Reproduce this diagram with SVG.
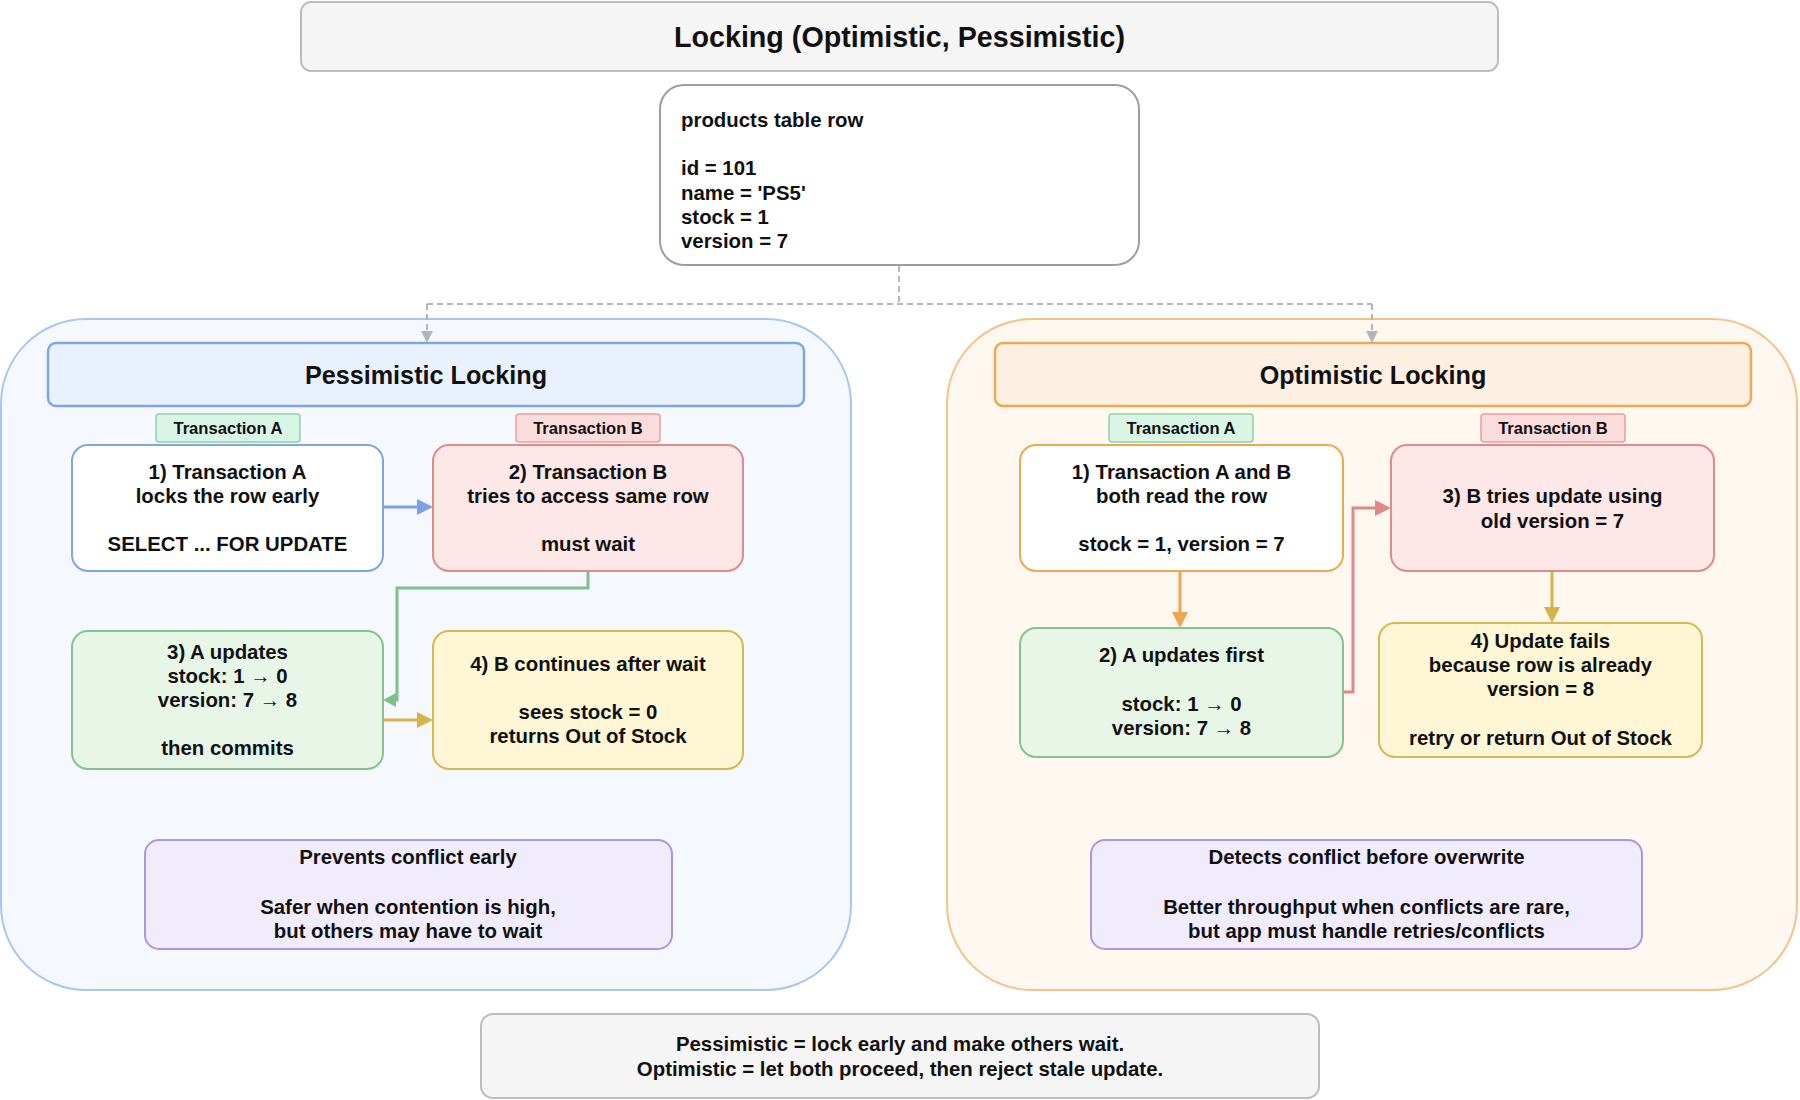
<svg xmlns="http://www.w3.org/2000/svg" width="1800" height="1100" viewBox="0 0 1800 1100">
<defs>
<style>
text{font-family:"Liberation Sans",Arial,Helvetica,sans-serif;font-weight:bold;fill:#111;}
.c{text-anchor:middle;}
.t20{font-size:20.4px;}
.t16{font-size:16.6px;}
.t24{font-size:25.2px;}
.t28{font-size:28.7px;}
.gray{fill:#f5f5f5;stroke:#bdbdbd;stroke-width:2;}
.red{fill:#fde7e7;stroke:#e08a8a;stroke-width:2;}
.green{fill:#e8f6e8;stroke:#86c28c;stroke-width:2;}
.yellow{fill:#fff6d6;stroke:#d8b850;stroke-width:2;}
.purple{fill:#f1ecfc;stroke:#a999dc;stroke-width:2;}
.labA{fill:#d9f5e5;stroke:#8fd0a5;stroke-width:1.5;}
.labB{fill:#fbdcdc;stroke:#e8a0a0;stroke-width:1.5;}
.conn{fill:none;stroke-width:3;}
.dash{fill:none;stroke:#b5b5b5;stroke-width:2;stroke-dasharray:6 4;}
</style>
<marker id="aBlue" markerUnits="userSpaceOnUse" viewBox="0 0 16 16" markerWidth="16" markerHeight="16" refX="0" refY="8" orient="auto"><path d="M0,0 L16,8 L0,16 z" fill="#7aa2e3"/></marker>
<marker id="aGreen" markerUnits="userSpaceOnUse" viewBox="0 0 13 14" markerWidth="13" markerHeight="14" refX="0" refY="7" orient="auto"><path d="M0,0 L13,7 L0,14 z" fill="#82c08a"/></marker>
<marker id="aGold" markerUnits="userSpaceOnUse" viewBox="0 0 16 16" markerWidth="16" markerHeight="16" refX="0" refY="8" orient="auto"><path d="M0,0 L16,8 L0,16 z" fill="#d6b44a"/></marker>
<marker id="aOrange" markerUnits="userSpaceOnUse" viewBox="0 0 16 16" markerWidth="16" markerHeight="16" refX="0" refY="8" orient="auto"><path d="M0,0 L16,8 L0,16 z" fill="#f0a552"/></marker>
<marker id="aRed" markerUnits="userSpaceOnUse" viewBox="0 0 16 16" markerWidth="16" markerHeight="16" refX="0" refY="8" orient="auto"><path d="M0,0 L16,8 L0,16 z" fill="#e08888"/></marker>
<marker id="aGray" markerUnits="userSpaceOnUse" viewBox="0 0 12 12" markerWidth="12" markerHeight="12" refX="0" refY="6" orient="auto"><path d="M0,0 L12,6 L0,12 z" fill="#b5b5b5"/></marker>
</defs>

<g id="title">
<rect x="301" y="2" width="1197" height="69" rx="10" class="gray"/>
<text x="899.5" y="46.5" class="c t28">Locking (Optimistic, Pessimistic)</text>
</g>

<g id="products">
<rect x="660" y="85" width="479" height="180" rx="24" fill="#ffffff" stroke="#9e9e9e" stroke-width="2"/>
<text x="681" y="127" class="t20">products table row</text>
<text x="681" y="175" class="t20">id = 101</text>
<text x="681" y="199.5" class="t20">name = 'PS5'</text>
<text x="681" y="224" class="t20">stock = 1</text>
<text x="681" y="248" class="t20">version = 7</text>
</g>

<g id="pess-container">
<rect x="1" y="319" width="850" height="671" rx="85" fill="#f5f9ff" stroke="#a8c6f0" stroke-width="2"/>
</g>
<g id="opt-container">
<rect x="947" y="319" width="850" height="671" rx="85" fill="#fff8f0" stroke="#f5c28a" stroke-width="2"/>
</g>

<g id="pess-header">
<rect x="48" y="343" width="756" height="63" rx="8" fill="#e9f1fd" stroke="#7ea6e0" stroke-width="2.5"/>
<text x="426" y="383.8" class="c t24">Pessimistic Locking</text>
</g>
<g id="opt-header">
<rect x="995" y="343" width="756" height="63" rx="8" fill="#fdf0e3" stroke="#f0a850" stroke-width="2.5"/>
<text x="1373" y="383.8" class="c t24">Optimistic Locking</text>
</g>

<g id="pess-labelA">
<rect x="156" y="414" width="144" height="28" rx="3" class="labA"/>
<text x="228" y="433.8" class="c t16">Transaction A</text>
</g>
<g id="pess-labelB">
<rect x="516" y="414" width="144" height="28" rx="3" class="labB"/>
<text x="588" y="433.8" class="c t16">Transaction B</text>
</g>

<g id="pess-step1">
<rect x="72" y="445" width="311" height="126" rx="16" fill="#ffffff" stroke="#7ea6e0" stroke-width="2"/>
<text x="227.5" y="479" class="c t20">1) Transaction A</text>
<text x="227.5" y="503" class="c t20">locks the row early</text>
<text x="227.5" y="551" class="c t20">SELECT ... FOR UPDATE</text>
</g>
<g id="pess-step2">
<rect x="433" y="445" width="310" height="126" rx="16" class="red"/>
<text x="588" y="479" class="c t20">2) Transaction B</text>
<text x="588" y="503" class="c t20">tries to access same row</text>
<text x="588" y="551" class="c t20">must wait</text>
</g>
<g id="pess-step3">
<rect x="72" y="631" width="311" height="138" rx="16" class="green"/>
<text x="227.5" y="659" class="c t20">3) A updates</text>
<text x="227.5" y="683" class="c t20">stock: 1 → 0</text>
<text x="227.5" y="707" class="c t20">version: 7 → 8</text>
<text x="227.5" y="755" class="c t20">then commits</text>
</g>
<g id="pess-step4">
<rect x="433" y="631" width="310" height="138" rx="16" class="yellow"/>
<text x="588" y="670.5" class="c t20">4) B continues after wait</text>
<text x="588" y="719" class="c t20">sees stock = 0</text>
<text x="588" y="743" class="c t20">returns Out of Stock</text>
</g>
<g id="pess-summary">
<rect x="145" y="840" width="527" height="109" rx="14" class="purple"/>
<text x="408" y="864" class="c t20">Prevents conflict early</text>
<text x="408" y="914" class="c t20">Safer when contention is high,</text>
<text x="408" y="938" class="c t20">but others may have to wait</text>
</g>

<g id="opt-labelA">
<rect x="1109" y="414" width="144" height="28" rx="3" class="labA"/>
<text x="1181" y="433.8" class="c t16">Transaction A</text>
</g>
<g id="opt-labelB">
<rect x="1481" y="414" width="144" height="28" rx="3" class="labB"/>
<text x="1553" y="433.8" class="c t16">Transaction B</text>
</g>
<g id="opt-step1">
<rect x="1020" y="445" width="323" height="126" rx="16" fill="#ffffff" stroke="#f0a850" stroke-width="2"/>
<text x="1181.5" y="479" class="c t20">1) Transaction A and B</text>
<text x="1181.5" y="503" class="c t20">both read the row</text>
<text x="1181.5" y="551" class="c t20">stock = 1, version = 7</text>
</g>
<g id="opt-step3">
<rect x="1391" y="445" width="323" height="126" rx="16" class="red"/>
<text x="1552.5" y="503" class="c t20">3) B tries update using</text>
<text x="1552.5" y="527.5" class="c t20">old version = 7</text>
</g>
<g id="opt-step2">
<rect x="1020" y="628" width="323" height="129" rx="16" class="green"/>
<text x="1181.5" y="662" class="c t20">2) A updates first</text>
<text x="1181.5" y="711" class="c t20">stock: 1 → 0</text>
<text x="1181.5" y="735" class="c t20">version: 7 → 8</text>
</g>
<g id="opt-step4">
<rect x="1379" y="623" width="323" height="134" rx="16" class="yellow"/>
<text x="1540.5" y="648" class="c t20">4) Update fails</text>
<text x="1540.5" y="672" class="c t20">because row is already</text>
<text x="1540.5" y="696" class="c t20">version = 8</text>
<text x="1540.5" y="745" class="c t20">retry or return Out of Stock</text>
</g>
<g id="opt-summary">
<rect x="1091" y="840" width="551" height="109" rx="14" class="purple"/>
<text x="1366.5" y="864" class="c t20">Detects conflict before overwrite</text>
<text x="1366.5" y="914" class="c t20">Better throughput when conflicts are rare,</text>
<text x="1366.5" y="938" class="c t20">but app must handle retries/conflicts</text>
</g>

<g id="footer">
<rect x="481" y="1014" width="838" height="84" rx="12" class="gray"/>
<text x="900" y="1050.5" class="c t20">Pessimistic = lock early and make others wait.</text>
<text x="900" y="1075.5" class="c t20">Optimistic = let both proceed, then reject stale update.</text>
</g>

<g id="connectors">
<path class="dash" d="M899,266 L899,304"/>
<path class="dash" d="M427,304 L1372,304"/>
<path class="dash" d="M427,304 L427,331" marker-end="url(#aGray)"/>
<path class="dash" d="M1372,304 L1372,331" marker-end="url(#aGray)"/>
<path class="conn" stroke="#7aa2e3" d="M384,507 L417,507" marker-end="url(#aBlue)"/>
<path class="conn" stroke="#82c08a" d="M588,572 L588,588 L397,588 L397,700 L396,700" marker-end="url(#aGreen)"/>
<path class="conn" stroke="#d6b44a" d="M384,720 L417,720" marker-end="url(#aGold)"/>
<path class="conn" stroke="#f0a552" d="M1180,572 L1180,612" marker-end="url(#aOrange)"/>
<path class="conn" stroke="#e08888" d="M1344,692 L1353,692 L1353,508 L1375,508" marker-end="url(#aRed)"/>
<path class="conn" stroke="#d6b44a" d="M1552,572 L1552,607" marker-end="url(#aGold)"/>
</g>
</svg>
